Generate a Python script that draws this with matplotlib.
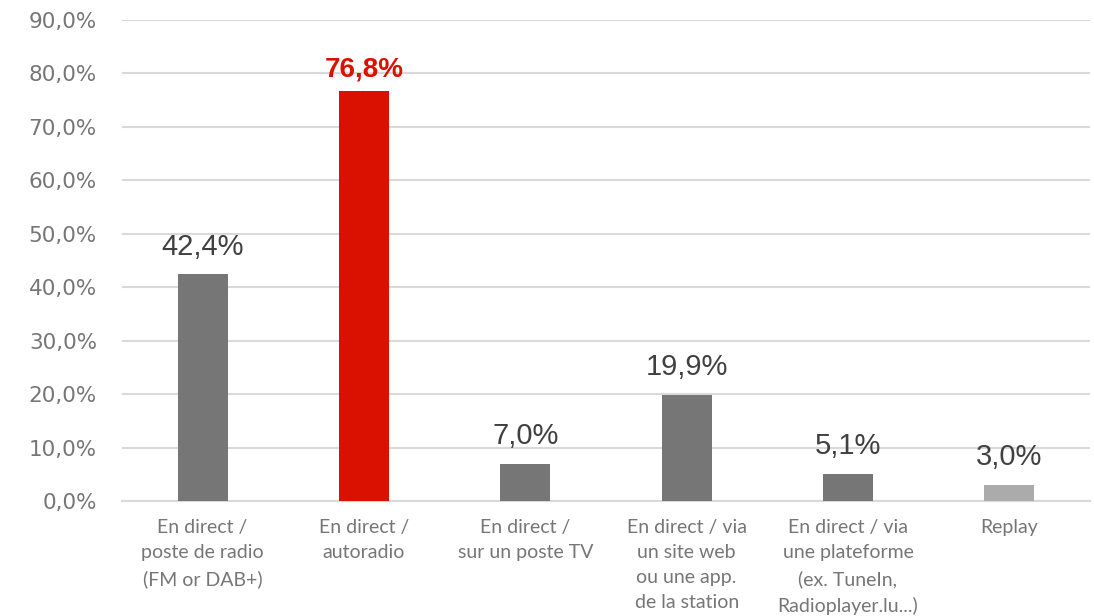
import matplotlib.pyplot as plt

categories = [
    "En direct /\nposte de radio\n(FM or DAB+)",
    "En direct /\nautoradio",
    "En direct /\nsur un poste TV",
    "En direct / via\nun site web\nou une app.\nde la station",
    "En direct / via\nune plateforme\n(ex. TuneIn,\nRadioplayer.lu...)",
    "Replay",
]
values = [42.4, 76.8, 7.0, 19.9, 5.1, 3.0]
bar_colors = ["#767676", "#DA1100", "#767676", "#767676", "#767676", "#ABABAB"]
yticks = [0, 10, 20, 30, 40, 50, 60, 70, 80, 90]

fig = plt.figure(figsize=(10.94, 6.16), dpi=100)
ax = fig.add_axes([0.1115, 0.1867, 0.8848, 0.7808])

x = list(range(len(values)))
ax.bar(x, values, width=0.31, color=bar_colors, zorder=3)

for xi, v, c in zip(x, values, bar_colors):
    lbl = f"{v:.1f}%".replace(".", ",")
    if c == "#DA1100":
        ax.text(xi, v + 2.6, lbl, ha="center", va="baseline", color="#DA1100",
                fontsize=20, fontweight="bold", family="Liberation Sans")
    else:
        ax.text(xi, v + 3.7, lbl, ha="center", va="baseline", color="#404040",
                fontsize=21, family="Liberation Sans")

ax.set_xlim(-0.5, len(values) - 0.5)
ax.set_ylim(0, 90)
ax.set_yticks(yticks)
ax.set_yticklabels([f"{t:.1f}%".replace(".", ",") for t in yticks],
                   fontsize=15.5, color="#767676", family="DejaVu Sans")
ax.set_xticks(x)
ax.set_xticklabels(categories, fontsize=14, color="#767676", family="Lato",
                   linespacing=1.58, va="top")
ax.tick_params(axis="both", length=0)
ax.tick_params(axis="x", pad=13)
ax.tick_params(axis="y", pad=18)
ax.grid(axis="y", color="#D9D9D9", linewidth=1.5, zorder=0)
for s in ["top", "right", "left"]:
    ax.spines[s].set_visible(False)
ax.spines["bottom"].set_color("#D9D9D9")
ax.spines["bottom"].set_linewidth(1.5)

fig.savefig("out.png", dpi=100)
